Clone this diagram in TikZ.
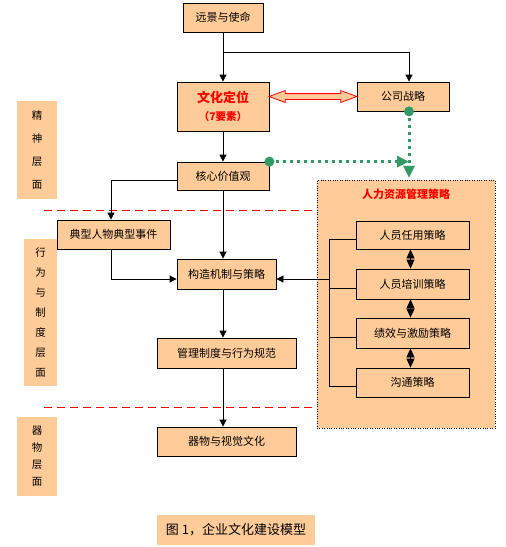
\documentclass[tikz,border=0pt]{standalone}
\usepackage{fontspec}
\setmainfont{Noto Sans CJK SC}
\usepackage{xcolor}
\usetikzlibrary{arrows.meta}
\usetikzlibrary{positioning,shapes.arrows}
\definecolor{boxfill}{HTML}{FFCC99}
\definecolor{seagreen}{HTML}{339966}

\begin{document}
\begin{tikzpicture}[x=1pt,y=-1pt]
  \tikzset{box/.style = {draw,fill=boxfill,line width=0.8pt,inner sep=1pt,font=\fontsize{11}{13}\selectfont}}
  \tikzset{layer/.style = {fill=boxfill,inner sep=0pt,align=center,font=\fontsize{10.5}{12}\selectfont}}
  \tikzset{edge/.style = {line width=0.8pt,-{Triangle[width=7pt,length=7pt]}}}
  \tikzset{dedge/.style = {line width=0.8pt,{Triangle[width=8pt,length=9pt]}-{Triangle[width=8pt,length=9pt]}}}
  \tikzset{gedge/.style = {seagreen,line width=3pt,dash pattern=on 3pt off 4pt,-{Triangle[width=11pt,length=12pt]}}}
  \tikzset{sep/.style = {red,line width=0.8pt,dash pattern=on 8pt off 5pt}}

  \useasboundingbox (0,0) rectangle (506,547);

	\node[layer,minimum width=40pt,minimum height=98pt] (L1) at (37,150) {精\\[11pt]神\\[11pt]层\\[11pt]面};
	\node[layer,minimum width=33pt,minimum height=147pt] (L2) at (40.5,312.5) {行\\[8pt]为\\[8pt]与\\[8pt]制\\[8pt]度\\[8pt]层\\[8pt]面};
	\node[layer,minimum width=40pt,minimum height=79pt] (L3) at (37,456.5) {器\\[5pt]物\\[5pt]层\\[5pt]面};

	\node[draw,dotted,fill=boxfill,minimum width=178pt,minimum height=248pt] (HR) at (406,304) {};
	\node[text=red,font=\bfseries\fontsize{11}{13}\selectfont] (HRT) at (406,194) {人力资源管理策略};

	\node[box,minimum width=80pt,minimum height=29pt] (VM) at (223,17.5) {远景与使命};
	\node[box,minimum width=92pt,minimum height=49pt,align=center,text=red,font=\bfseries\fontsize{13}{16}\selectfont] (CP) at (223,106.5) {文化定位\\[2pt]{\fontsize{10.5}{12}\selectfont （7要素）}};
	\node[box,minimum width=92pt,minimum height=29pt] (GS) at (403,96.5) {公司战略};
	\node[box,minimum width=92pt,minimum height=28pt] (CV) at (223,176) {核心价值观};
	\node[box,minimum width=113pt,minimum height=29pt] (DX) at (113.5,234.5) {典型人物典型事件};
	\node[box,minimum width=99pt,minimum height=30pt] (GZ) at (226.5,274) {构造机制与策略};
	\node[box,minimum width=139pt,minimum height=30pt] (GL) at (226.5,353) {管理制度与行为规范};
	\node[box,minimum width=139pt,minimum height=29pt] (QW) at (226.5,441.5) {器物与视觉文化};

	\node[box,minimum width=113pt,minimum height=28pt] (R1) at (412.5,235) {人员任用策略};
	\node[box,minimum width=113pt,minimum height=30pt] (R2) at (412.5,284) {人员培训策略};
	\node[box,minimum width=113pt,minimum height=30pt] (R3) at (412.5,333) {绩效与激励策略};
	\node[box,minimum width=113pt,minimum height=29pt] (R4) at (412.5,382.5) {沟通策略};

	\node[layer,minimum width=158pt,minimum height=30pt,font=\fontsize{13}{16}\selectfont] (CAP) at (236,530) {图 1，企业文化建设模型};

	\node[double arrow,draw=red,fill=boxfill,line width=0.8pt,minimum height=88pt,inner xsep=0pt,inner ysep=2.5pt,
	  double arrow head extend=3pt,double arrow tip angle=40] (DA) at (313,96.5) {};

	% separators between the layers
	\coordinate (S1) at (44,210);
	\coordinate (S2) at (44,407);
	\foreach \s in {S1,S2}
	\draw[sep] (\s) -- (\s -| HR.west);

    \foreach \from/\to in {VM/CP, CP/CV, CV/GZ, GZ/GL, GL/QW}
    \draw[edge] (VM.south |- \from.south) -- (VM.south |- \to.north);

    \draw[edge] (VM.south) ++(0,20) -| ([xshift=6pt]GS.north);
    \draw[edge] ([yshift=-4pt]CV.west) -| ([xshift=-2.5pt]DX.north);
    \draw[edge] ([xshift=-2.5pt]DX.south) |- ([yshift=-5pt]GZ.west);

	% bracket of the HR strategies
	\coordinate (BR) at (329,279);
	\draw[line width=0.8pt] ([yshift=-4pt]R1.west) -- ([yshift=-4pt]R1.west -| BR) -- ([yshift=-4pt]R4.west -| BR) -- ([yshift=-4pt]R4.west);
    \foreach \r in {R2,R3}
    \draw[line width=0.8pt] ([yshift=-4pt]\r.west) -- ([yshift=-4pt]\r.west -| BR);
    \draw[edge] (BR) -- (BR -| GZ.east);

    \foreach \from/\to in {R1/R2, R2/R3, R3/R4}
    \draw[dedge] ([xshift=-2pt]\from.south) -- ([xshift=-2pt]\to.north);

	\draw[gedge] ([xshift=6pt]GS.south) -- ([xshift=6pt,yshift=2pt]GS.south |- HR.north);
	\fill[seagreen] ([xshift=6pt]GS.south) circle (5pt);
	\draw[gedge] (CV.north east) -- ([xshift=6pt]CV.north east -| GS.south);
	\fill[seagreen] (CV.north east) circle (5pt);

\end{tikzpicture}
\end{document}
